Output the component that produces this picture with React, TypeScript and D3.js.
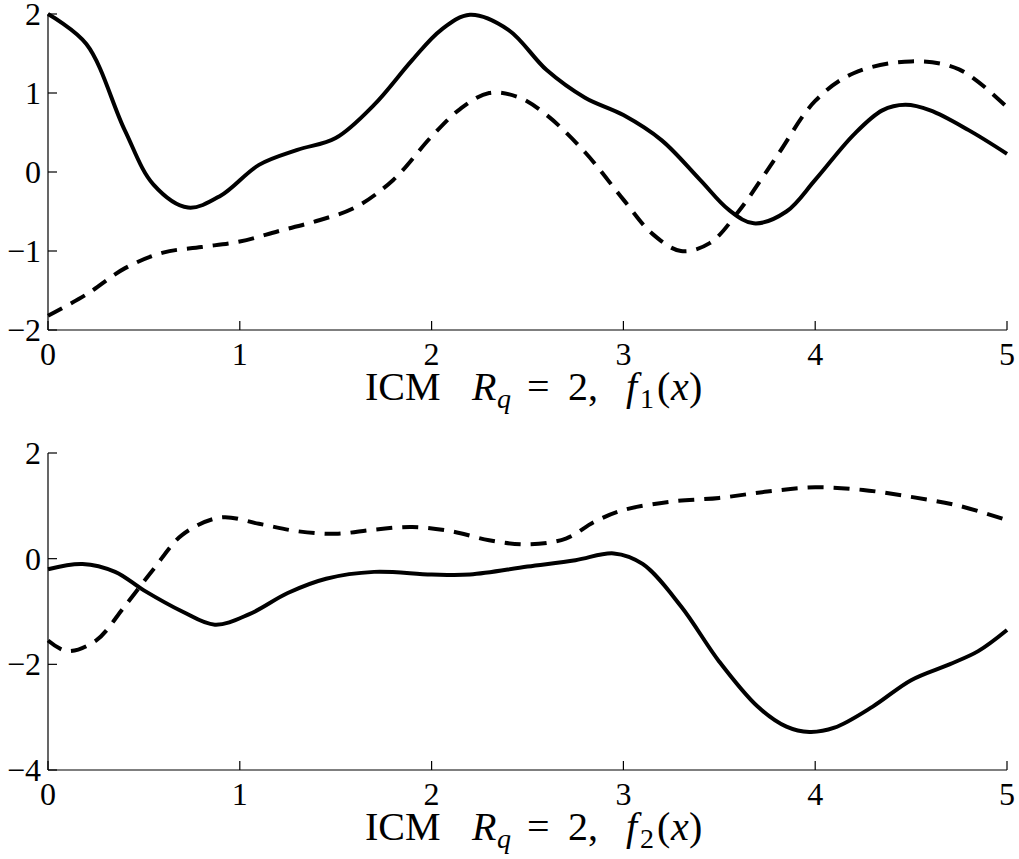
import React from "react";
import * as d3 from "d3";

const topSolidX = [0, 0.2, 0.4, 0.55, 0.73, 0.9, 1.1, 1.3, 1.5, 1.7, 1.9, 2.05, 2.2, 2.4, 2.6, 2.8, 3.0, 3.2, 3.4, 3.55, 3.68, 3.85, 4.0, 4.2, 4.35, 4.47, 4.6, 4.8, 5.0];
const topSolidY = [2.0, 1.62, 0.53, -0.16, -0.45, -0.3, 0.09, 0.28, 0.43, 0.85, 1.42, 1.8, 1.99, 1.8, 1.29, 0.94, 0.72, 0.4, -0.1, -0.48, -0.65, -0.5, -0.1, 0.47, 0.78, 0.85, 0.78, 0.53, 0.23];

const topDashX = [0, 0.2, 0.4, 0.6, 0.8, 1.0, 1.2, 1.4, 1.6, 1.8, 2.0, 2.15, 2.3, 2.45, 2.6, 2.8, 3.0, 3.15, 3.3, 3.45, 3.6, 3.8, 4.0, 4.2, 4.5, 4.75, 5.0];
const topDashY = [-1.82, -1.55, -1.22, -1.02, -0.95, -0.88, -0.75, -0.62, -0.45, -0.1, 0.45, 0.8, 1.0, 0.95, 0.72, 0.25, -0.35, -0.78, -1.0, -0.9, -0.5, 0.2, 0.9, 1.25, 1.4, 1.3, 0.82];

const botSolidX = [0, 0.18, 0.35, 0.5, 0.7, 0.87, 1.05, 1.25, 1.45, 1.7, 2.0, 2.2, 2.5, 2.75, 2.95, 3.1, 3.3, 3.5, 3.7, 3.85, 3.97, 4.1, 4.3, 4.5, 4.7, 4.85, 5.0];
const botSolidY = [-0.2, -0.1, -0.25, -0.6, -1.0, -1.25, -1.05, -0.65, -0.38, -0.25, -0.3, -0.3, -0.15, -0.03, 0.1, -0.1, -0.9, -1.95, -2.8, -3.18, -3.28, -3.2, -2.8, -2.3, -2.0, -1.75, -1.35];

const botDashX = [0, 0.1, 0.25, 0.4, 0.55, 0.7, 0.9, 1.1, 1.3, 1.5, 1.7, 1.9, 2.1, 2.3, 2.5, 2.7, 2.85, 3.0, 3.25, 3.5, 3.75, 4.0, 4.25, 4.5, 4.75, 5.0];
const botDashY = [-1.55, -1.75, -1.55, -0.9, -0.2, 0.45, 0.78, 0.66, 0.52, 0.47, 0.55, 0.6, 0.52, 0.35, 0.27, 0.38, 0.7, 0.92, 1.08, 1.15, 1.27, 1.35, 1.3, 1.17, 1.0, 0.73];

const xTicks = [0, 1, 2, 3, 4, 5];
const topYTicks = [-2, -1, 0, 1, 2];
const botYTicks = [-4, -2, 0, 2];

const FONT = "'Liberation Serif', 'Times New Roman', serif";

type PanelProps = {
  top: number;
  bottom: number;
  yDomain: [number, number];
  yTicks: number[];
  solid: [number[], number[]];
  dash: [number[], number[]];
  sub: string;
};

function Panel({ top, bottom, yDomain, yTicks, solid, dash, sub }: PanelProps) {
  const x = d3.scaleLinear().domain([0, 5]).range([48, 1007]);
  const y = d3.scaleLinear().domain(yDomain).range([bottom, top]);
  const line = d3
    .line<[number, number]>()
    .x((d) => x(d[0]))
    .y((d) => y(d[1]))
    .curve(d3.curveCatmullRom.alpha(0.5));
  const sPts = solid[0].map((v, i) => [v, solid[1][i]] as [number, number]);
  const dPts = dash[0].map((v, i) => [v, dash[1][i]] as [number, number]);
  const tickLen = 9;
  const base = y(yDomain[0]);
  const ty = base + 70;
  return (
    <g>
      <path d={line(dPts) || ""} fill="none" stroke="#000" strokeWidth={4} strokeDasharray="16 10" />
      <path d={line(sPts) || ""} fill="none" stroke="#000" strokeWidth={4} />
      <line x1={x(0)} x2={x(0)} y1={y(yDomain[1])} y2={base} stroke="#000" strokeWidth={1.2} />
      <line x1={x(0)} x2={x(5)} y1={base} y2={base} stroke="#000" strokeWidth={1.2} />
      {yTicks.map((t) => (
        <g key={"y" + t}>
          <line x1={x(0)} x2={x(0) + tickLen} y1={y(t)} y2={y(t)} stroke="#000" strokeWidth={1.2} />
          <text x={41} y={y(t)} dy="0.34em" textAnchor="end" fontFamily={FONT} fontSize={32}>
            {t < 0 ? "\u2212" + Math.abs(t) : String(t)}
          </text>
        </g>
      ))}
      {xTicks.map((t) => (
        <g key={"x" + t}>
          <line x1={x(t)} x2={x(t)} y1={base} y2={base - tickLen} stroke="#000" strokeWidth={1.2} />
          <text x={x(t)} y={base + 35} textAnchor="middle" fontFamily={FONT} fontSize={32}>
            {t}
          </text>
        </g>
      ))}
      <text y={ty} fontFamily={FONT} fontSize={40}>
        <tspan x={365}>ICM</tspan>
        <tspan x={472} fontStyle="italic">R</tspan>
        <tspan x={497} fontStyle="italic" fontSize={28} dy={8}>q</tspan>
        <tspan x={527} dy={-8}>=</tspan>
        <tspan x={568}>2,</tspan>
        <tspan x={626} fontStyle="italic">f</tspan>
        <tspan x={640} fontSize={28} dy={8}>{sub}</tspan>
        <tspan x={657} dy={-8}>(</tspan>
        <tspan x={671} fontStyle="italic">x</tspan>
        <tspan x={689}>)</tspan>
      </text>
    </g>
  );
}

export default function App() {
  return (
    <svg
      width={1019}
      height={859}
      style={{ position: "absolute", left: 0, top: 0, background: "#fff" }}
    >
      <rect width={1019} height={859} fill="#fff" />
      <Panel
        top={14}
        bottom={330}
        yDomain={[-2, 2]}
        yTicks={topYTicks}
        solid={[topSolidX, topSolidY]}
        dash={[topDashX, topDashY]}
        sub="1"
      />
      <Panel
        top={453}
        bottom={770}
        yDomain={[-4, 2]}
        yTicks={botYTicks}
        solid={[botSolidX, botSolidY]}
        dash={[botDashX, botDashY]}
        sub="2"
      />
    </svg>
  );
}
